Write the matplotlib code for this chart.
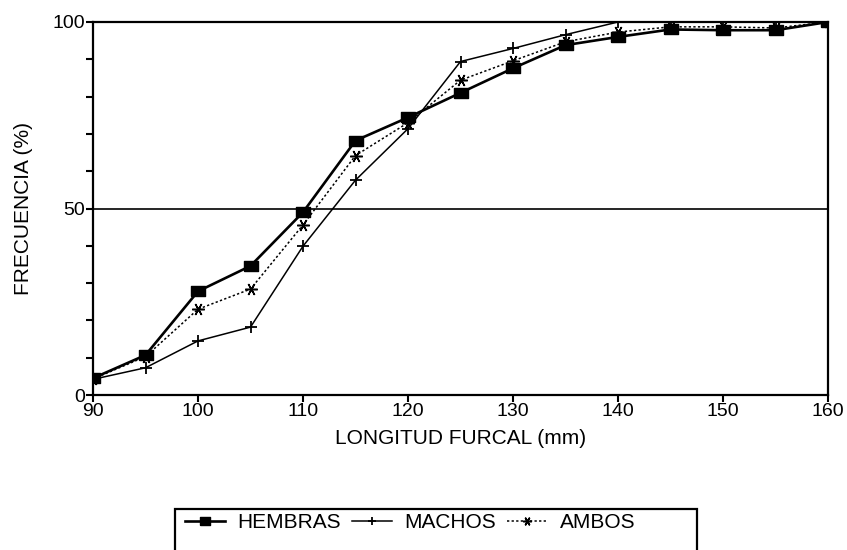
import matplotlib
matplotlib.use("Agg")
import matplotlib.pyplot as plt
from matplotlib.ticker import MultipleLocator
from matplotlib.patches import Rectangle

plt.rcParams['font.family'] = ['Liberation Sans', 'DejaVu Sans']

longitud = [90, 95, 100, 105, 110, 115, 120, 125, 130, 135, 140, 145, 150, 155, 160]
hembras = [4.5, 10.7, 27.8, 34.6, 49.0, 68.2, 74.4, 81.0, 87.6, 93.8, 96.0, 98.0, 97.8, 97.8, 100]
machos = [4.2, 7.3, 14.5, 18.2, 39.9, 57.6, 71.4, 89.4, 92.9, 96.6, 100, 100, 100, 100, 100]
ambos = [4.3, 10.3, 23.0, 28.4, 45.6, 64.2, 73.0, 84.4, 89.6, 94.7, 97.3, 98.7, 98.7, 98.4, 100]

fig = plt.figure(figsize=(8.47, 5.5), dpi=100)
ax = fig.add_axes([93/847, 1-395/550, (828-93)/847, (395-22)/550])

rect_marker = [(-1.3, -1), (1.3, -1), (1.3, 1), (-1.3, 1), (-1.3, -1)]

ax.axhline(50, color='black', lw=1.2, zorder=1)
ax.plot(longitud, hembras, color='black', lw=1.9, marker=rect_marker, ms=10, label='HEMBRAS', zorder=3)
ax.plot(longitud, machos, color='black', lw=1.1, marker='+', ms=9, mew=1.3, label='MACHOS', zorder=2)
ax.plot(longitud, ambos, color='black', lw=1.1, ls=(0, (1.5, 1.5)), marker=(6, 2, 90), ms=9, mew=1.1,
        label='AMBOS', zorder=2)

ax.set_xlim(90, 160)
ax.set_ylim(0, 100)
ax.set_xticks(range(90, 161, 10))
ax.set_yticks([0, 50, 100])
ax.yaxis.set_minor_locator(MultipleLocator(10))
ax.tick_params(axis='both', which='major', direction='out', length=5, width=1.5, labelsize=14, pad=1)
ax.tick_params(axis='y', which='minor', direction='out', length=5, width=1.5)
for s in ax.spines.values():
    s.set_linewidth(1.6)
    s.set_color('black')

ax.set_xlabel('LONGITUD FURCAL (mm)', fontsize=15, labelpad=6)
ax.set_ylabel('FRECUENCIA (%)', fontsize=15)
ax.yaxis.set_label_coords((33-93)/735, 0.5)

leg = fig.legend(loc='center left', bbox_to_anchor=(185/847, 1-523/550), ncol=3, frameon=False,
                 fontsize=15, markerscale=0.7, handlelength=1.9, handletextpad=0.6,
                 columnspacing=0.55, borderpad=0, borderaxespad=0)

fig.patches.append(Rectangle((175/847, -0.05), (697-175)/847, 1-509/550+0.05,
                             transform=fig.transFigure, fill=False, edgecolor='black', lw=1.6))

fig.savefig('out.png', dpi=100)
